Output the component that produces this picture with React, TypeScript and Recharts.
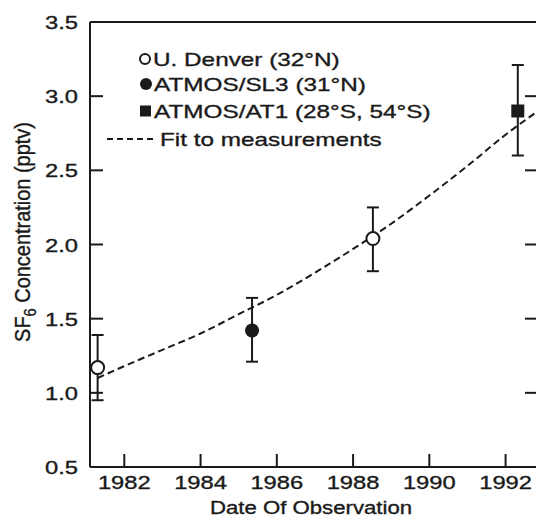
import { ComposedChart, Line, Scatter, ErrorBar, XAxis, YAxis } from "recharts";

// observations: year, SF6 (pptv), error [below, above]
const denver = [
  { year: 1981.3, sf6: 1.17, err: [0.22, 0.22] },
  { year: 1988.52, sf6: 2.04, err: [0.22, 0.21] },
];
const sl3 = [{ year: 1985.35, sf6: 1.42, err: [0.21, 0.22] }];
const at1 = [{ year: 1992.32, sf6: 2.9, err: [0.3, 0.31] }];

// dashed fit curve
const fitYears = [1981.3, 1982, 1983, 1984, 1985, 1986, 1987, 1988, 1989, 1990, 1991, 1992, 1992.85];
const fitValues = [1.1, 1.18, 1.29, 1.4, 1.53, 1.66, 1.81, 1.97, 2.14, 2.33, 2.53, 2.74, 2.9];
const fit = fitYears.map((year, i) => ({ year, sf6: fitValues[i] }));

const xTicks = [1982, 1984, 1986, 1988, 1990, 1992];
const yTicks = [0.5, 1.0, 1.5, 2.0, 2.5, 3.0, 3.5];
const xDomain = [1981.1, 1992.85];
const yDomain = [0.5, 3.5];

const INK = "#1a1a1a";
const FONT = "'Liberation Sans', Arial, Helvetica, sans-serif";
const TICK = 13;
const BOTTOM_MARGIN = 22;
const axisStyle = { stroke: INK, strokeWidth: 2 };
const textInk = { fill: INK, stroke: INK, strokeWidth: 0.35, fontFamily: FONT };

// ticks are drawn by hand so they point into the plot
const BottomTick = (p: any) => {
  const ay = p.y - BOTTOM_MARGIN;
  return (
    <g>
      <line x1={p.x} y1={ay} x2={p.x} y2={ay - TICK} stroke={INK} strokeWidth={2} />
      <text transform={`translate(${p.x},${p.y}) scale(1.25,1)`} textAnchor="middle" fontSize={19} {...textInk}>
        {p.payload.value}
      </text>
    </g>
  );
};
const TopTick = (p: any) => (
  <line x1={p.x} y1={p.y} x2={p.x} y2={p.y + TICK} stroke={INK} strokeWidth={2} />
);
const LeftTick = (p: any) => (
  <g>
    <line x1={p.x} y1={p.y} x2={p.x + TICK} y2={p.y} stroke={INK} strokeWidth={2} />
    <text transform={`translate(${p.x - 12},${p.y + 7}) scale(1.25,1)`} textAnchor="end" fontSize={19} {...textInk}>
      {Number(p.payload.value).toFixed(1)}
    </text>
  </g>
);
const RightTick = (p: any) => (
  <line x1={p.x} y1={p.y} x2={p.x - TICK} y2={p.y} stroke={INK} strokeWidth={2} />
);

const OpenDot = (p: any) => (
  <circle cx={p.cx} cy={p.cy} r={6.5} fill="#fff" stroke={INK} strokeWidth={2} />
);
const FilledDot = (p: any) => <circle cx={p.cx} cy={p.cy} r={7} fill={INK} />;
const Square = (p: any) => <rect x={p.cx - 6.5} y={p.cy - 6.5} width={13} height={13} fill={INK} />;

const legendText = (x: number, y: number, s: string) => (
  <text transform={`translate(${x},${y}) scale(1.28,1)`} fontSize={19} {...textInk}>
    {s}
  </text>
);

export default function App() {
  return (
    <div style={{ position: "absolute", left: 0, top: 0, width: 536, height: 517, overflow: "hidden", background: "#fff" }}>
      <ComposedChart width={546} height={517} margin={{ top: 12, right: 0, bottom: 0, left: 0 }}>
        <XAxis
          dataKey="year"
          type="number"
          domain={xDomain}
          allowDataOverflow
          ticks={xTicks}
          interval={0}
          height={50}
          tickSize={0}
          tickMargin={BOTTOM_MARGIN}
          axisLine={axisStyle}
          tickLine={false}
          tick={BottomTick}
        />
        <XAxis
          xAxisId="top"
          orientation="top"
          type="number"
          domain={xDomain}
          allowDataOverflow
          ticks={xTicks}
          interval={0}
          height={10}
          tickSize={0}
          tickMargin={0}
          axisLine={axisStyle}
          tickLine={false}
          tick={TopTick}
        />
        <YAxis
          dataKey="sf6"
          type="number"
          domain={yDomain}
          allowDataOverflow
          ticks={yTicks}
          interval={0}
          width={90}
          tickSize={0}
          tickMargin={0}
          axisLine={axisStyle}
          tickLine={false}
          tick={LeftTick}
        />
        <YAxis
          yAxisId="right"
          orientation="right"
          type="number"
          domain={yDomain}
          allowDataOverflow
          ticks={yTicks}
          interval={0}
          width={8}
          tickSize={0}
          tickMargin={0}
          axisLine={axisStyle}
          tickLine={false}
          tick={RightTick}
        />
        <Line
          data={fit}
          dataKey="sf6"
          type="monotone"
          dot={false}
          stroke={INK}
          strokeWidth={2}
          strokeDasharray="7 4"
          isAnimationActive={false}
        />
        <Scatter data={denver} dataKey="sf6" shape={OpenDot} isAnimationActive={false}>
          <ErrorBar dataKey="err" direction="y" width={6} stroke={INK} strokeWidth={2} />
        </Scatter>
        <Scatter data={sl3} dataKey="sf6" shape={FilledDot} isAnimationActive={false}>
          <ErrorBar dataKey="err" direction="y" width={6} stroke={INK} strokeWidth={2} />
        </Scatter>
        <Scatter data={at1} dataKey="sf6" shape={Square} isAnimationActive={false}>
          <ErrorBar dataKey="err" direction="y" width={6} stroke={INK} strokeWidth={2} />
        </Scatter>
      </ComposedChart>

      <svg width={536} height={517} style={{ position: "absolute", left: 0, top: 0, pointerEvents: "none" }}>
        {/* legend */}
        <circle cx={145} cy={59} r={5} fill="#fff" stroke={INK} strokeWidth={2} />
        {legendText(153, 66, "U. Denver (32°N)")}
        <circle cx={146} cy={84} r={6} fill={INK} />
        {legendText(154, 91, "ATMOS/SL3 (31°N)")}
        <rect x={140} y={105.5} width={11} height={11} fill={INK} />
        {legendText(154, 118, "ATMOS/AT1 (28°S, 54°S)")}
        <line x1={107} y1={139} x2={153} y2={139} stroke={INK} strokeWidth={2} strokeDasharray="6 4" />
        {legendText(160, 146, "Fit to measurements")}

        {/* axis titles */}
        <text transform="translate(311,514) scale(1.2,1)" textAnchor="middle" fontSize={18.5} {...textInk}>
          Date Of Observation
        </text>
        <text
          transform="translate(30,232) rotate(-90) scale(1.05,1.15)"
          textAnchor="middle"
          fontSize={19}
          {...textInk}
        >
          SF
          <tspan fontSize={14} dy={5}>6</tspan>
          <tspan dy={-5}> Concentration (pptv)</tspan>
        </text>
      </svg>
    </div>
  );
}
